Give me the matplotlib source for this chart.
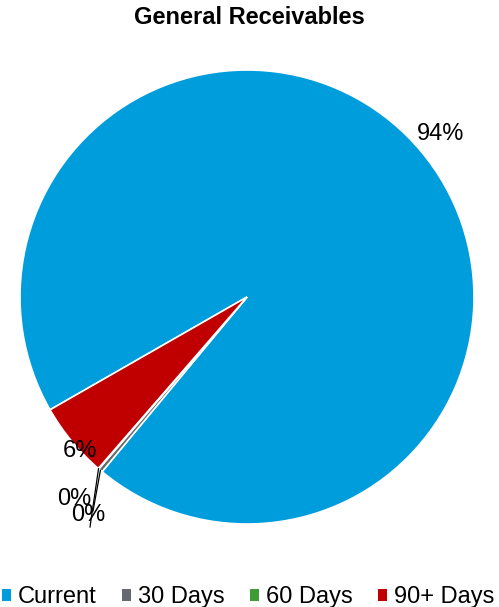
import matplotlib

matplotlib.use("Agg")
import matplotlib.pyplot as plt
import numpy as np
from matplotlib.patches import Patch

plt.rcParams["font.family"] = ["Liberation Sans", "DejaVu Sans"]

# 数据
categories = ["Current", "30 Days", "60 Days", "90+ Days"]
shares = [94.3, 0.3, 0.05, 5.35]
labels = ["94%", "0%", "0%", "6%"]
colors = ["#009DDC", "#666A70", "#3F9C35", "#C00000"]

fig = plt.figure(figsize=(4.99, 6.07), dpi=100)
ax = fig.add_axes([20 / 499, 1 - 524 / 607, 454 / 499, 454 / 607])
wedges, _ = ax.pie(shares, colors=colors, startangle=209.8, counterclock=False,
                   radius=1, wedgeprops=dict(edgecolor="white", linewidth=1.2))
ax.set_xlim(-1, 1); ax.set_ylim(-1, 1); ax.set_aspect("equal"); ax.axis("off")

# 标签位置（半径, 角度偏移）
lab_pos = {0: (1.115, 0.0), 3: (1.0, 3.2), 1: (1.17, None), 2: (1.19, None)}
small_ang = {1: 229.4, 2: 233.9}
for i, w in enumerate(wedges):
    mid = (w.theta1 + w.theta2) / 2
    r, off = lab_pos[i]
    ang = small_ang[i] if off is None else mid + off
    x, y = r * np.cos(np.radians(ang)), r * np.sin(np.radians(ang))
    ax.text(x, y, labels[i], ha="center", va="center", fontsize=17, color="black")

# 两条引线
ends = {1: (93, 511), 2: (90, 527)}
for i, (px, py) in ends.items():
    w = wedges[i]
    mid = np.radians((w.theta1 + w.theta2) / 2)
    x0, y0 = np.cos(mid), np.sin(mid)
    ax.plot([x0, (px - 247) / 227], [y0, (297 - py) / 227], color="black", lw=0.9,
            clip_on=False)

fig.text(0.5, 1 - 18 / 607, "General Receivables", ha="center", va="center",
         fontsize=17, fontweight="bold")

handles = [Patch(facecolor=c, edgecolor="none") for c in colors]
fig.legend(handles, categories, loc="center", bbox_to_anchor=(0.497, 10 / 607), ncol=4,
           frameon=False, fontsize=17, handlelength=0.4, handleheight=0.4,
           handletextpad=0.3, columnspacing=1.05, borderpad=0, borderaxespad=0)

fig.savefig("out.png", dpi=100)
